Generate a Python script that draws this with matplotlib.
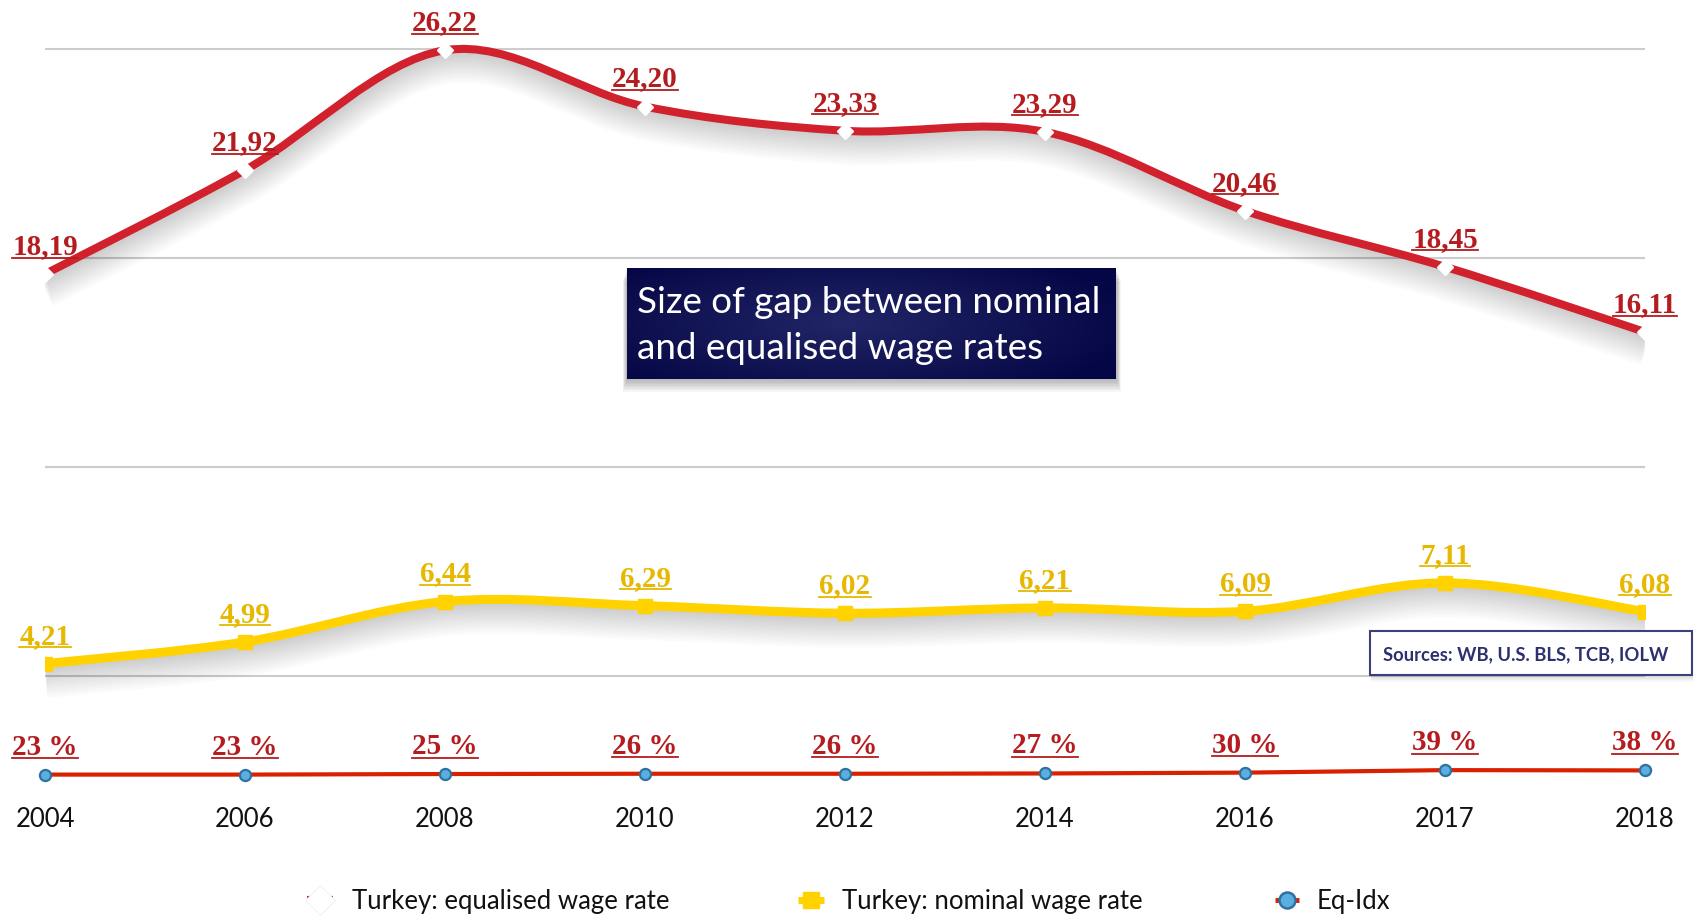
import numpy as np
import matplotlib
matplotlib.use('Agg')
import matplotlib.pyplot as plt
import matplotlib.patheffects as pe
from matplotlib.path import Path
from matplotlib.patches import PathPatch, Rectangle
from matplotlib.lines import Line2D
from matplotlib.transforms import IdentityTransform

# data
years = ['2004', '2006', '2008', '2010', '2012', '2014', '2016', '2017', '2018']
equalised = [18.19, 21.92, 26.22, 24.20, 23.33, 23.29, 20.46, 18.45, 16.11]
nominal = [4.21, 4.99, 6.44, 6.29, 6.02, 6.21, 6.09, 7.11, 6.08]
eq_idx = [23, 23, 25, 26, 26, 27, 30, 39, 38]   # percent
grid_levels = [3.75, 11.25, 18.75, 26.25]

title_lines = ['Size of gap between nominal', 'and equalised wage rates']
source_text = 'Sources: WB, U.S. BLS, TCB, IOLW'
legend_labels = ['Turkey: equalised wage rate', 'Turkey: nominal wage rate', 'Eq-Idx']

RED = '#d0212d'
RED_TXT = '#b41c1f'
YEL = '#ffd200'
YEL_TXT = '#e6b800'
EQ_LINE = '#d92000'
BLUE = '#5aaee0'
BLUE_EDGE = '#2f72a0'

plt.rcParams['font.family'] = ['Lato', 'DejaVu Sans']

W, H = 1694, 916
fig = plt.figure(figsize=(W / 100, H / 100), dpi=100)
fig.patch.set_facecolor('white')

PX = 27.87      # pixels per unit
ZERO = 781      # pixel row of y = 0
ymax = 27.2
ax = fig.add_axes([45 / W, 1 - ZERO / H, 1600 / W, ymax * PX / H])
ax.set_xlim(0, len(years) - 1)
ax.set_ylim(0, ymax)
for s in ax.spines.values():
    s.set_visible(False)
ax.set_yticks(grid_levels)
ax.set_yticklabels([])
ax.tick_params(axis='y', length=0)
ax.grid(axis='y', color='#cccccc', lw=1.5)
ax.set_axisbelow(True)
ax.set_xticks(range(len(years)))
ax.set_xticklabels(years, fontsize=18.5, color='#111111')
ax.tick_params(axis='x', length=0, pad=19)

x = np.arange(len(years))


def smooth_path(xs, ys):
    pts = np.column_stack([xs, ys]).astype(float)
    n = len(pts)
    verts = [pts[0]]
    codes = [Path.MOVETO]
    for i in range(n - 1):
        p0 = pts[max(i - 1, 0)]
        p1 = pts[i]
        p2 = pts[i + 1]
        p3 = pts[min(i + 2, n - 1)]
        verts += [p1 + (p2 - p0) / 6, p2 - (p3 - p1) / 6, p2]
        codes += [Path.CURVE4] * 3
    return Path(verts, codes)


def shadow(lw):
    effs = []
    for k in range(1, 13):
        effs.append(pe.SimpleLineShadow(offset=(0.6, -1.1 * k), shadow_color='black',
                                        alpha=0.016, linewidth=lw + 1.4 * k))
    effs.append(pe.Normal())
    return effs


# red equalised line
ax.add_patch(PathPatch(smooth_path(x, equalised), fill=False, edgecolor=RED, lw=5.8,
                       capstyle='butt', path_effects=shadow(5.8), zorder=3))
ax.plot(x, equalised, ls='none', marker='D', ms=8, mfc='white', mec='white', zorder=4)

# yellow nominal line
ax.add_patch(PathPatch(smooth_path(x, nominal), fill=False, edgecolor=YEL, lw=6.5,
                       capstyle='butt', path_effects=shadow(6.5), zorder=3))
ax.plot(x, nominal, ls='none', marker='s', ms=10, mfc=YEL, mec=YEL, zorder=4)

# eq-idx line
eq_frac = [v / 100 for v in eq_idx]
ax.plot(x, eq_frac, color=EQ_LINE, lw=3, zorder=3, clip_on=False)
ax.plot(x, eq_frac, ls='none', marker='o', ms=8, mfc=BLUE, mec=BLUE_EDGE, mew=1.6,
        zorder=4, clip_on=False)

OFF = 20  # px between point and label baseline
labels = []


def add_label(xi, yi, s, color):
    t = ax.annotate(s, (xi, yi), xytext=(0, OFF * 72 / 100), textcoords='offset points',
                    ha='center', va='baseline', fontsize=21, fontweight='bold',
                    family=['Liberation Serif', 'DejaVu Serif'], color=color,
                    annotation_clip=False, zorder=6)
    labels.append((t, xi, yi, color))


for xi, v in zip(x, equalised):
    add_label(xi, v, f'{v:.2f}'.replace('.', ','), RED_TXT)
for xi, v in zip(x, nominal):
    add_label(xi, v, f'{v:.2f}'.replace('.', ','), YEL_TXT)
for xi, v, f in zip(x, eq_idx, eq_frac):
    add_label(xi, f, f'{v} %', RED_TXT)

# overlay in pixel coordinates for boxes and legend
ov = fig.add_axes([0, 0, 1, 1], zorder=5)
ov.patch.set_alpha(0)
ov.axis('off')

# title box with radial glow
bx0, bx1, by0, by1 = 627, 1116, 268, 379
for k in range(8):
    ov.add_patch(Rectangle((bx0 - 1 - k * 0.5, by0 + 2 + 1.5 * k), bx1 - bx0 + k + 2, by1 - by0,
                           facecolor='black', edgecolor='none', alpha=0.035, zorder=2))
gy, gx = np.mgrid[0:1:120j, 0:1:400j]
d = np.clip(np.sqrt(((gx - 0.45) / 0.6) ** 2 + ((gy - 0.5) / 0.75) ** 2), 0, 1)
c_in = np.array([0x22, 0x26, 0x66]) / 255
c_out = np.array([0x05, 0x06, 0x45]) / 255
img = c_in[None, None, :] * (1 - d[..., None]) + c_out[None, None, :] * d[..., None]
ov.imshow(img, extent=(bx0, bx1, by1, by0), aspect='auto', zorder=3, interpolation='bilinear')
ov.text(637, 313, title_lines[0], color='white', fontsize=26.5, va='baseline', zorder=4)
ov.text(637, 359, title_lines[1], color='white', fontsize=26.5, va='baseline', zorder=4)

# sources box
for k in range(4):
    ov.add_patch(Rectangle((1371, 633 + 1.5 * k), 322, 44, facecolor='black',
                           edgecolor='none', alpha=0.03, zorder=2))
ov.add_patch(Rectangle((1370, 631), 322, 44, facecolor='white', edgecolor='#3b3f7c',
                       lw=1.5, zorder=3))
ov.text(1383, 660, source_text, color='#2d3070', fontsize=13.2, fontweight='bold',
        va='baseline', zorder=4)

# legend
ly = 900
ov.plot([307, 333], [ly - 2, ly - 2], color=RED, lw=3, zorder=3, solid_capstyle='butt')
ov.plot([320], [ly], marker='D', ms=15, mfc='white', mec='#eeeeee', mew=0.6, zorder=4)
ov.plot([798, 824], [ly, ly], color=YEL, lw=5, zorder=3, solid_capstyle='butt')
ov.plot([811], [ly], marker='s', ms=12, mfc=YEL, mec=YEL, zorder=4)
ov.plot([1275, 1299], [ly, ly], color=EQ_LINE, lw=3.5, zorder=3, solid_capstyle='butt')
ov.plot([1287], [ly], marker='o', ms=11.5, mfc=BLUE, mec=BLUE_EDGE, mew=1.8, zorder=4)
for tx, s in zip([352, 842, 1317], legend_labels):
    ov.text(tx, 909, s, fontsize=18.5, color='#111111', va='baseline', zorder=4)

ov.set_xlim(0, W)
ov.set_ylim(H, 0)

# underline the data labels
fig.canvas.draw()
r = fig.canvas.get_renderer()
for t, xi, yi, color in labels:
    bb = t.get_window_extent(r)
    base = ax.transData.transform((xi, yi))[1] + OFF
    fig.add_artist(Line2D([bb.x0, bb.x1], [base - 3.5, base - 3.5], color=color, lw=1.3,
                          transform=IdentityTransform(), zorder=7))

fig.savefig('out.png', dpi=100)
